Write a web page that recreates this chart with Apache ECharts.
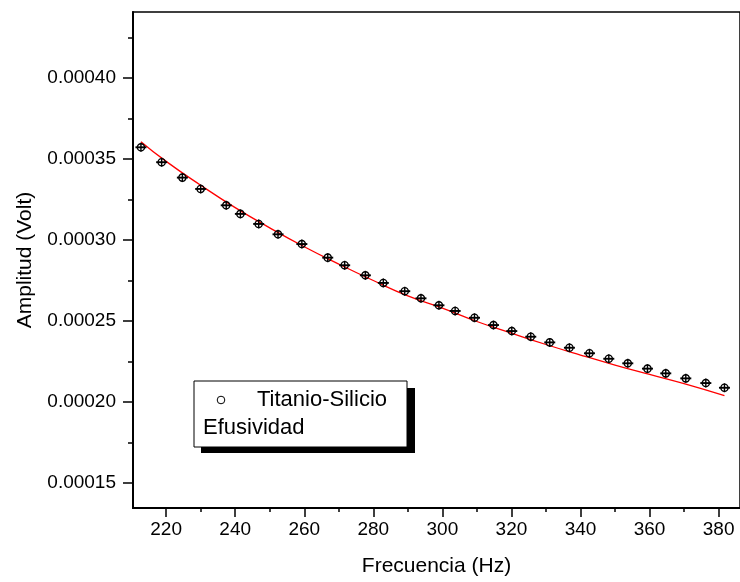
<!DOCTYPE html>
<html>
<head>
<meta charset="utf-8">
<script src="https://cdn.jsdelivr.net/npm/echarts@6/dist/echarts.min.js"></script>
<style>
  html, body { margin: 0; padding: 0; background: #fff; }
  #chart { width: 740px; height: 582px; }
</style>
</head>
<body>
<div id="chart"></div>
<script>
// measured points (Titanio-Silicio)
var freq = [212.7, 218.7, 224.7, 230.0, 237.4, 241.5, 246.8, 252.4, 259.3, 266.8,
            271.7, 277.7, 282.9, 289.1, 293.8, 299.0, 303.7, 309.3, 314.8, 320.1,
            325.6, 331.1, 336.8, 342.6, 348.2, 353.7, 359.4, 364.7, 370.5, 376.3, 381.7];
var amp = [0.0003572, 0.0003480, 0.0003385, 0.0003315, 0.0003214, 0.0003161, 0.0003099, 0.0003035, 0.0002975, 0.0002891,
           0.0002844, 0.0002782, 0.0002735, 0.0002684, 0.0002640, 0.0002597, 0.0002562, 0.0002520, 0.0002475, 0.0002438,
           0.0002403, 0.0002368, 0.0002335, 0.0002301, 0.0002267, 0.0002239, 0.0002206, 0.0002177, 0.0002146, 0.0002117, 0.0002088];

// fitted curve (Efusividad)
var fitFreq = [212.7, 220, 230, 240, 250, 260, 270, 280, 290, 300, 310, 320, 330, 340, 350, 360, 370, 381.7];
var fitAmp = [0.0003607, 0.0003485, 0.0003338, 0.0003200, 0.0003075, 0.0002958, 0.0002851, 0.0002750, 0.0002655,
              0.0002580, 0.0002497, 0.0002425, 0.0002355, 0.0002290, 0.0002228, 0.0002170, 0.0002113, 0.0002039];

// ticks
var xMajor = [220, 240, 260, 280, 300, 320, 340, 360, 380];
var xMinor = [230, 250, 270, 290, 310, 330, 350, 370];
var yMajor = [0.00015, 0.00020, 0.00025, 0.00030, 0.00035, 0.00040];
var yMinor = [0.000175, 0.000225, 0.000275, 0.000325, 0.000375, 0.000425];

var xMin = 210.4, xMax = 386.2;
var yMin = 0.0001346, yMax = 0.0004407;

var font = 'Liberation Sans, Arial, sans-serif';

var chart = echarts.init(document.getElementById('chart'));

var pts = freq.map(function (f, i) { return [f, amp[i]]; });
var fit = fitFreq.map(function (f, i) { return [f, fitAmp[i]]; });

var option = {
    animation: false,
    backgroundColor: '#fff',
    grid: {
        left: 133, top: 12, right: -4, bottom: 74,
        show: true, borderColor: '#000', borderWidth: 1.5,
        containLabel: false
    },
    xAxis: [{
        type: 'value', min: xMin, max: xMax, position: 'bottom',
        name: 'Frecuencia (Hz)', nameLocation: 'middle', nameGap: 48,
        nameTextStyle: { fontSize: 21, color: '#000', fontFamily: font },
        axisLine: { show: true, lineStyle: { color: '#000', width: 2 } },
        axisTick: { show: true, customValues: xMajor, length: 9, lineStyle: { color: '#000', width: 1.5 } },
        axisLabel: { customValues: xMajor, fontSize: 19, color: '#000', fontFamily: font, margin: 12 },
        splitLine: { show: false }
    }, {
        type: 'value', min: xMin, max: xMax, position: 'bottom',
        axisLine: { show: false },
        axisTick: { show: true, customValues: xMinor, length: 4, lineStyle: { color: '#000', width: 1.5 } },
        axisLabel: { show: false },
        splitLine: { show: false }
    }],
    yAxis: [{
        type: 'value', min: yMin, max: yMax, position: 'left',
        name: 'Amplitud (Volt)', nameLocation: 'middle', nameGap: 97, nameRotate: 90,
        nameTextStyle: { fontSize: 21, color: '#000', fontFamily: font },
        axisLine: { show: true, lineStyle: { color: '#000', width: 2 } },
        axisTick: { show: true, customValues: yMajor, length: 10, lineStyle: { color: '#000', width: 1.5 } },
        axisLabel: {
            customValues: yMajor, fontSize: 19, color: '#000', fontFamily: font, margin: 17,
            formatter: function (v) { return v.toFixed(5); }
        },
        splitLine: { show: false }
    }, {
        type: 'value', min: yMin, max: yMax, position: 'left',
        axisLine: { show: false },
        axisTick: { show: true, customValues: yMinor, length: 5, lineStyle: { color: '#000', width: 1.5 } },
        axisLabel: { show: false },
        splitLine: { show: false }
    }],
    series: [{
        name: 'Efusividad',
        type: 'line',
        data: fit,
        smooth: true,
        showSymbol: false,
        lineStyle: { color: '#ff0000', width: 1.3 },
        z: 3
    }, {
        name: 'Titanio-Silicio',
        type: 'custom',
        data: pts,
        z: 4,
        renderItem: function (params, api) {
            var p = api.coord([api.value(0), api.value(1)]);
            var st = { stroke: '#000', lineWidth: 1.4, fill: null };
            var bar = { stroke: '#000', lineWidth: 1.9, fill: null };
            return {
                type: 'group',
                children: [
                    { type: 'circle', shape: { cx: p[0], cy: p[1], r: 3.6 }, style: st },
                    { type: 'line', shape: { x1: p[0] - 5.5, y1: p[1], x2: p[0] + 5.5, y2: p[1] }, style: bar },
                    { type: 'line', shape: { x1: p[0], y1: p[1] - 4.5, x2: p[0], y2: p[1] + 4.5 }, style: st }
                ]
            };
        }
    }],
    graphic: [
        { type: 'rect', shape: { x: 201, y: 388, width: 214, height: 65 }, style: { fill: '#000' }, z: 10 },
        { type: 'rect', shape: { x: 194, y: 381, width: 213, height: 66 }, style: { fill: '#fff', stroke: '#000', lineWidth: 1 }, z: 11 },
        { type: 'circle', shape: { cx: 221, cy: 400, r: 3.8 }, style: { fill: null, stroke: '#000', lineWidth: 1 }, z: 12 },
        { type: 'text', x: 257, y: 400, style: { text: 'Titanio-Silicio', font: '22px ' + font, fill: '#000', verticalAlign: 'middle' }, z: 12 },
        { type: 'text', x: 203, y: 428, style: { text: 'Efusividad', font: '22px ' + font, fill: '#000', verticalAlign: 'middle' }, z: 12 }
    ]
};

chart.setOption(option);
</script>
</body>
</html>
